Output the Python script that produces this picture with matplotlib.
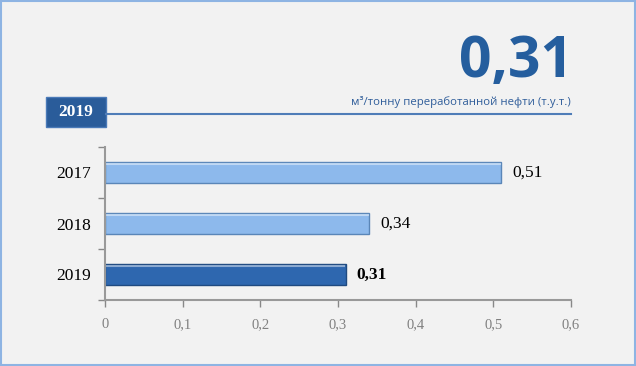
import matplotlib.pyplot as plt
from matplotlib.patches import Rectangle
from matplotlib.lines import Line2D

years = ['2017', '2018', '2019']
values = [0.51, 0.34, 0.31]
value_labels = ['0,51', '0,34', '0,31']
bar_colors = ['#8DB9EC', '#8DB9EC', '#2E67AF']
edge_colors = ['#5A86B8', '#5A86B8', '#1F4A80']
xticks = [0, 0.1, 0.2, 0.3, 0.4, 0.5, 0.6]
xtick_labels = ['0', '0,1', '0,2', '0,3', '0,4', '0,5', '0,6']
headline = '0,31'
unit = 'м³/тонну переработанной нефти (т.у.т.)'

W, H = 636, 366
fig = plt.figure(figsize=(W / 100, H / 100), dpi=100)
fig.patch.set_facecolor('#F2F2F2')

# outer frame
fig.add_artist(Rectangle((0.001, 0.002), 0.997, 0.995, transform=fig.transFigure,
                         fill=False, edgecolor='#8EB4E3', linewidth=1.5))

ax = fig.add_axes([105 / W, 66 / H, 466 / W, 153 / H])
ax.set_facecolor('#F2F2F2')

ypos = list(range(len(years)))[::-1]
ax.barh(ypos, values, height=0.41, color=bar_colors, edgecolor=edge_colors, linewidth=1.0)
# light top highlight for a bevel look
for y, v in zip(ypos, values):
    ax.plot([0.002, v - 0.002], [y + 0.17, y + 0.17], color='white', alpha=0.45, lw=1.5)

for y, v, lab in zip(ypos, values, value_labels):
    ax.text(v + 0.014, y, lab, va='center', ha='left', family='Liberation Serif',
            fontsize=12.5, color='black', fontweight='bold' if lab == headline else 'normal')

ax.set_xlim(0, 0.6)
ax.set_ylim(-0.5, 2.5)
ax.set_xticks(xticks)
ax.set_xticklabels(xtick_labels, family='Liberation Serif', fontsize=10.5, color='#808080')
ax.set_yticks(ypos)
ax.set_yticklabels(years, family='Liberation Serif', fontsize=12.5, color='black')
ax.set_yticks([-0.5, 0.5, 1.5, 2.5], minor=True)
ax.tick_params(axis='y', which='major', length=0, pad=10)
ax.tick_params(axis='y', which='minor', length=5, color='#888888', width=1)
ax.tick_params(axis='x', length=5, color='#888888', width=1, pad=8)
for s in ['top', 'right']:
    ax.spines[s].set_visible(False)
for s in ['left', 'bottom']:
    ax.spines[s].set_color('#999999')
    ax.spines[s].set_linewidth(1.5)

# header
fig.text(573 / W, 1 - 62 / H, headline, ha='right', va='center', fontsize=41,
         fontweight='bold', color='#255E9E', family='Open Sans')
fig.text(571 / W, 1 - 102 / H, unit, ha='right', va='center', fontsize=8.2,
         color='#2F5D9A', family='Open Sans')
fig.add_artist(Line2D([106 / W, 571 / W], [1 - 114 / H, 1 - 114 / H], transform=fig.transFigure,
                      color='#4F7DB8', linewidth=1.5))
fig.add_artist(Rectangle((46 / W, 1 - 127 / H), 60 / W, 30 / H, transform=fig.transFigure,
                         facecolor='#2A5C9A', edgecolor='#4A7AB8', linewidth=1))
fig.text(76 / W, 1 - 112 / H, '2019', ha='center', va='center', fontsize=12.5,
         fontweight='bold', color='white', family='Liberation Serif')

fig.savefig('out.png', dpi=100, facecolor=fig.get_facecolor())
